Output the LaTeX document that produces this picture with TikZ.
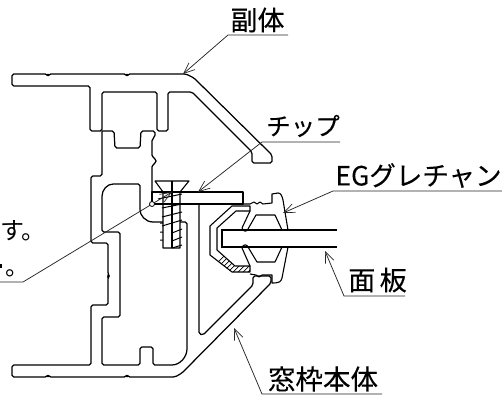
\documentclass[tikz,border=0pt]{standalone}
\usepackage{fontspec}
\newfontfamily\jp[FakeBold=0.2]{Noto Sans CJK JP}
\newfontfamily\jplight{Noto Sans CJK JP}
\usetikzlibrary{arrows.meta}
\tikzset{
  prof/.style={line width=1.25pt,line join=round,rounded corners=1.8pt},
  thin part/.style={line width=1.1pt,line join=round},
  thread/.style={line width=1pt},
  leader/.style={line width=.75pt,black!85},
  arrowed/.style={leader,-{Straight Barb[length=11pt,width=9pt,line width=.7pt]}},
  lab/.style={inner sep=0pt,font=\jp\fontsize{#1}{#1}\selectfont},
  lab/.default=26,
  sidelab/.style={inner sep=0pt,font=\jplight\fontsize{24}{24}\selectfont}
}
\begin{document}
\begin{tikzpicture}[x=1pt,y=-1pt]
\useasboundingbox (0,0) rectangle (502,398);
% upper profile
\draw[prof] (186,74) -- (128,74) -- (127,76) -- (126,74) -- (49,74) -- (48,76) -- (47,74) -- (12,74) -- (12,86) -- (90,86) -- (90,131) -- (102,131) -- (102,92) -- (157,92) -- (157,131) -- (168,131) -- (168,92) -- (192,92) -- (252,152) -- (252,163) -- (272,163) -- (272,155) -- (194,78) -- cycle;
% main body outer
\draw[prof] (102,131) -- (102,176) -- (91,176) -- (91,243) -- (108,243) -- (108,274) -- (109,276) -- (108,277) -- (108,305) -- (91,305) -- (91,365) -- (12,365) -- (12,377) -- (47,377) -- (48,375) -- (49,377) -- (126,377) -- (127,375) -- (128,377) -- (175,377) -- (182,373) -- (271,283) -- (271,276) -- (253,276) -- (253,285) -- (203,335) -- (199,334) -- (199,204);
% inner web
\draw[prof] (102,131) -- (114,131) -- (115,148) -- (140,148) -- (141,131) -- (155,131) -- (155,137) -- (152,139) -- (152,157) -- (156,159) -- (156,163) -- (152,165) -- (152,192);
% hollow chamber and lower profile
\draw[prof] (163,222) -- (155,222) .. controls (145,222) and (140,215) .. (140,208) -- (140,184) -- (115,184) .. controls (107,184) and (102,190) .. (102,198) -- (102,232) -- (120,232) -- (120,317) -- (102,317) -- (102,365) -- (140,365) -- (140,347) -- (153,347) -- (153,365) -- (170,365) .. controls (180,365) and (187,357) .. (187,347) -- (187,222) -- (180,222);
% plate
\draw[prof,rounded corners=0pt] (152,192) rectangle (243,204);
% screw
\draw[thin part] (155,181) -- (189,181) -- (180,192) -- (180,248) -- (163,248) -- (163,192) -- cycle;
\draw[thin part] (172,181) -- (172,248);
\draw[thread] (158,199) -- (182,194) (162,208) -- (182,204) (162,217) -- (182,212) (162,226) -- (182,220) (172,233) -- (182,229) (172,241) -- (182,237) (172,248) -- (182,245) (160,223) -- (163,223) (160,232) -- (163,232) (160,240) -- (163,240);
% hatched glazing seat
\begin{scope}
\clip (250,206) -- (232,206) -- (210,226) -- (210,255) -- (232,272) -- (250,272) -- (250,266) -- (235,266) -- (217,250) -- (217,228) -- (236,211) -- (250,211) -- cycle;
\foreach \k in {0,5,...,120}{\draw[line width=.7pt] (200+\k,280) -- (280+\k,200);}
\end{scope}
\draw[thin part] (250,206) -- (232,206) -- (210,226) -- (210,255) -- (232,272) -- (250,272) -- (250,266) -- (235,266) -- (217,250) -- (217,228) -- (236,211) -- (250,211) -- cycle;
% gasket
\draw[thin part] (243,204) -- (250,204) -- (254,202) -- (257,204) -- (260,202) -- (263,204) -- (272,203) -- (272,194) -- (278,193) .. controls (281,193) and (282,196) .. (283,200) -- (288,230);
\draw[thin part] (288,247) -- (282,278) .. controls (281,282) and (279,283) .. (272,283) -- (272,275) -- (262,275) -- (259,277) -- (256,275) -- (250,274);
\draw[thin part] (250,211) -- (242,228) .. controls (243,232) and (247,232) .. (248,229) -- (256,215) -- (275,215) -- (282,230);
\draw[thin part] (250,266) -- (242,248) .. controls (243,244) and (247,244) .. (248,247) -- (257,262) -- (275,262) -- (282,247);
% panel
\draw[line width=1.25pt] (337,230) -- (222,230) -- (222,247) -- (337,247);
% labels
\node[lab=27,anchor=center] (fuku) at (257.5,20) {副体};
\node[lab=24.5,anchor=center] (chip) at (303,126) {チップ};
\node[lab=26.5,anchor=center] (eg) at (418.5,175.5) {EGグレチャン};
\node[lab=27,anchor=center] (men) at (377.5,280) {面\,板};
\node[lab=27.5,anchor=center] (waku) at (323,379) {窓枠本体};
\node[sidelab,anchor=west] (su) at (0,231) {す。};
\node[sidelab,anchor=west] (maru) at (5,273) {。};
\fill (0,264) rectangle (1.5,268);
% connector coordinates
\coordinate (fuTip) at (183,74);
\coordinate (fuA) at (228,35); \coordinate (fuB) at (288,35);
\coordinate (chTip) at (198,192);
\coordinate (chA) at (262,142); \coordinate (chB) at (340,142);
\coordinate (egTip) at (283,213);
\coordinate (egA) at (333,191); \coordinate (egB) at (502,191);
\coordinate (meTip) at (325,251);
\coordinate (meA) at (344,296); \coordinate (meB) at (405,296);
\coordinate (waTip) at (234,328);
\coordinate (waA) at (262,394); \coordinate (waB) at (382,394);
\coordinate (scTip) at (172,192);
\coordinate (scA) at (23,282); \coordinate (scB) at (0,282);
\draw[arrowed] (fuB) -- (fuA) -- (fuTip);
\draw[arrowed] (chB) -- (chA) -- (chTip);
\draw[arrowed] (egB) -- (egA) -- (egTip);
\draw[arrowed] (meB) -- (meA) -- (meTip);
\draw[arrowed] (waB) -- (waA) -- (waTip);
\draw[arrowed] (scB) -- (scA) -- (scTip);
\draw[line width=.8pt,fill=white] (152,204) circle (2.5);
\end{tikzpicture}
\end{document}
